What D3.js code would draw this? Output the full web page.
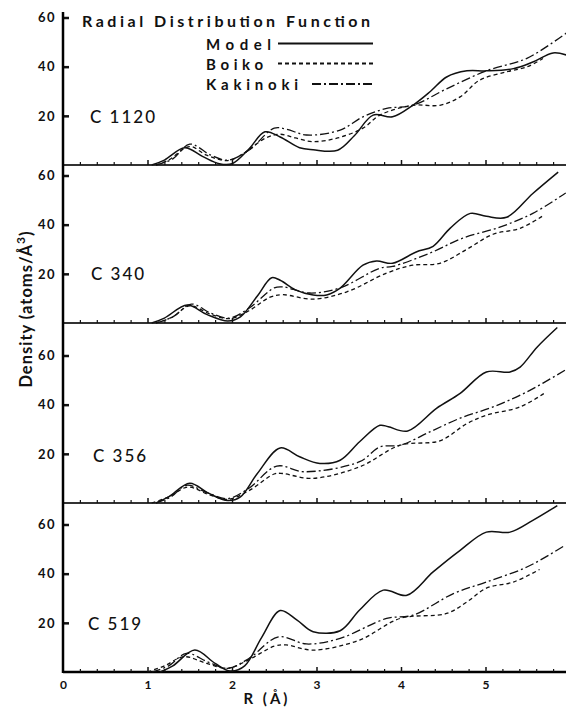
<!DOCTYPE html>
<html>
<head>
<meta charset="utf-8">
<script src="https://cdn.jsdelivr.net/npm/d3@7"></script>
<style>
  body { margin: 0; background: #fff; }
  svg { display: block; }
  text { font-family: Lato, "Open Sans", sans-serif; fill: #111; }
</style>
</head>
<body>
<div id="chart"></div>
<script>
// Radial distribution function, four carbon samples
const panelNames = ["C 1120", "C 340", "C 356", "C 519"];
const seriesNames = ["Model", "Boiko", "Kakinoki"];
const xTicks = [0, 1, 2, 3, 4, 5, 6];
const yTicks = [20, 40, 60];

// [R (Å), density] pairs
const c1120Model = [[1.05,0],[1.2,2],[1.44,7],[1.65,3.5],[1.85,0.5],[2.0,0.5],[2.2,6.5],[2.39,13.5],[2.57,11.4],[2.8,7],[2.96,6.2],[3.25,6],[3.45,12],[3.67,20.3],[3.9,19.6],[4.14,24.3],[4.35,30],[4.54,35.8],[4.78,38.3],[5.01,38.3],[5.33,39.2],[5.56,41.9],[5.8,45.6],[5.97,44.6]];
const c1120Boiko = [[1.1,0],[1.25,2],[1.5,7.5],[1.7,4],[1.95,1.8],[2.15,5],[2.4,11],[2.57,12.5],[2.75,11],[2.96,9.5],[3.25,11],[3.55,15],[3.75,20.3],[4.14,24.3],[4.46,24.3],[4.7,27.7],[4.93,34.5],[5.25,37.9],[5.49,39.9],[5.68,43.3]];
const c1120Kakinoki = [[1.1,0],[1.3,2.5],[1.5,8.5],[1.75,4],[1.95,2],[2.2,6],[2.5,15],[2.65,14.5],[2.88,12.2],[3.28,14.2],[3.55,19.6],[3.83,23],[4.14,24.3],[4.54,31],[5.01,38.3],[5.49,43.4],[5.97,54]];

const c340Model = [[1.05,0],[1.2,2],[1.47,7.3],[1.7,3.5],[1.95,0.8],[2.1,2.5],[2.3,11],[2.47,18.4],[2.57,17.4],[2.75,13.5],[2.96,11.4],[3.12,11.4],[3.28,14.2],[3.55,23.5],[3.71,25.2],[3.9,24.3],[4.18,28.9],[4.38,31.2],[4.58,38.5],[4.82,44.6],[5.01,43.4],[5.25,43],[5.56,52.7],[5.86,61.4]];
const c340Boiko = [[1.1,0],[1.3,2.5],[1.5,7],[1.75,3.5],[1.97,1.8],[2.2,5],[2.45,10.5],[2.6,11.5],[2.96,9.7],[3.36,12.7],[3.83,20.3],[4.14,23.5],[4.46,24.3],[4.78,30],[5.09,36.1],[5.41,38.5],[5.67,43.4]];
const c340Kakinoki = [[1.1,0],[1.3,2.5],[1.52,7.7],[1.75,4],[1.97,2],[2.2,6],[2.5,14.3],[2.6,14.7],[2.92,12.2],[3.28,14.3],[3.75,22.3],[3.9,23],[4.34,28.4],[4.73,34.5],[5.17,39],[5.56,44.6],[5.95,52.9]];

const c356Model = [[1.1,0],[1.25,2.5],[1.5,8],[1.72,4],[1.95,1],[2.1,2.5],[2.3,12],[2.57,22.4],[2.8,18.8],[3.04,16.1],[3.28,17.4],[3.51,24.9],[3.75,31.6],[3.85,31],[4.08,29.3],[4.42,38.5],[4.7,44.6],[5.01,53.3],[5.29,53.3],[5.41,55.3],[5.61,63.4],[5.85,71.4]];
const c356Boiko = [[1.05,0],[1.25,2.5],[1.48,6.5],[1.72,3.5],[1.95,1.5],[2.2,5],[2.5,11.8],[2.6,12],[2.94,10],[3.51,14.7],[3.99,23.5],[4.46,25.3],[4.78,32.3],[5.01,35.7],[5.41,39.1],[5.7,44.7]];
const c356Kakinoki = [[1.1,0],[1.28,2.5],[1.46,7.2],[1.72,4],[1.95,1.8],[2.2,6],[2.53,15],[2.86,12.7],[3.51,16.8],[3.75,22.8],[3.99,23.5],[4.34,28.9],[4.7,34.5],[5.09,39.1],[5.49,45.2],[5.94,54]];

const c519Model = [[1.15,0],[1.3,2.5],[1.56,8.9],[1.8,3.5],[1.98,0.4],[2.15,2.5],[2.35,14],[2.57,25],[2.77,21.1],[2.96,16.4],[3.28,16.8],[3.51,25.2],[3.79,33.3],[4.07,31.2],[4.38,40.7],[4.7,49.5],[5.01,56.9],[5.29,56.9],[5.56,61.7],[5.85,67.7]];
const c519Boiko = [[1.0,0],[1.2,2.5],[1.43,6.2],[1.7,3.5],[1.95,1.5],[2.2,5],[2.5,10.5],[2.64,11],[2.96,8.9],[3.51,13],[3.99,21.8],[4.54,23.8],[4.78,28.5],[5.01,34.1],[5.33,36.6],[5.64,41.7]];
const c519Kakinoki = [[1.05,0],[1.25,2.5],[1.46,7.6],[1.72,4],[1.95,1.5],[2.2,5.5],[2.55,14.3],[2.88,11.4],[3.28,13.7],[3.83,21.8],[4.14,23.1],[4.62,31.9],[5.01,36.6],[5.49,42.7],[5.94,51.5]];

const panelData = [
  [c1120Model, c1120Boiko, c1120Kakinoki],
  [c340Model, c340Boiko, c340Kakinoki],
  [c356Model, c356Boiko, c356Kakinoki],
  [c519Model, c519Boiko, c519Kakinoki]
];

// layout
const W = 566, H = 708;
const axisX = 63;
const top0 = 12;
const baselines = [165, 323, 503, 672];
const labelY = [123, 280, 462, 630];
const labelX = [90, 91, 93, 88];
const pxPer60 = 147.5;
const dashes = [null, "4,3", "9,3,2,3"];

const svg = d3.select("#chart").append("svg")
  .attr("width", W).attr("height", H);

const x = d3.scaleLinear().domain([0, 6]).range([axisX, 570]);
const minor = d3.range(0, 6.01, 0.2).filter(v => Math.abs(v - Math.round(v)) > 1e-6);

svg.append("clipPath").attr("id", "clip")
  .append("rect").attr("x", axisX).attr("y", 0).attr("width", W - axisX).attr("height", H);

panelData.forEach((series, i) => {
  let base = baselines[i];
  let y = d3.scaleLinear().domain([0, 60]).range([base, base - pxPer60]);
  let g = svg.append("g");

  // baseline with ticks pointing up
  g.append("line")
    .attr("x1", axisX).attr("x2", W)
    .attr("y1", base).attr("y2", base)
    .attr("stroke", i === 3 ? "#000" : "#333")
    .attr("stroke-width", i === 3 ? 2.5 : 2);

  g.append("g")
    .attr("transform", `translate(0,${base})`)
    .call(d3.axisTop(x).tickValues(xTicks.slice(1)).tickSize(5).tickFormat(""))
    .call(a => a.select(".domain").remove())
    .selectAll("line").attr("stroke", "#111").attr("stroke-width", 1.5);

  g.append("g")
    .attr("transform", `translate(0,${base})`)
    .call(d3.axisTop(x).tickValues(minor).tickSize(3).tickFormat(""))
    .call(a => a.select(".domain").remove())
    .selectAll("line").attr("stroke", "#111").attr("stroke-width", 1.2);

  // y ticks and labels
  let ya = g.append("g")
    .attr("transform", `translate(${axisX},0)`)
    .call(d3.axisLeft(y).tickValues(yTicks).tickSize(-6).tickPadding(7).tickFormat(d3.format("d")));
  ya.select(".domain").remove();
  ya.selectAll("line").attr("stroke", "#111").attr("stroke-width", 2.5);
  ya.selectAll("text")
    .style("font-size", "13px").style("font-weight", "bold")
    .style("letter-spacing", "1.5px").attr("fill", "#111");

  // curves
  let line = d3.line()
    .x(d => x(d[0]))
    .y(d => y(d[1]))
    .curve(d3.curveCatmullRom.alpha(0.5));

  series.forEach((pts, k) => {
    g.append("path")
      .datum(pts)
      .attr("d", line)
      .attr("fill", "none")
      .attr("stroke", "#111")
      .attr("stroke-width", k === 0 ? 1.5 : 1.3)
      .attr("stroke-dasharray", dashes[k])
      .attr("clip-path", "url(#clip)");
  });

  g.append("text")
    .attr("x", labelX[i]).attr("y", labelY[i])
    .style("font-size", "17px").style("font-weight", 500)
    .style("letter-spacing", "2px")
    .text(panelNames[i]);
});

// left axis line
svg.append("line")
  .attr("x1", axisX).attr("x2", axisX)
  .attr("y1", top0).attr("y2", baselines[3] + 1)
  .attr("stroke", "#000").attr("stroke-width", 2.5);

// x tick labels
svg.append("g")
  .attr("transform", `translate(0,${baselines[3]})`)
  .call(d3.axisBottom(x).tickValues(xTicks).tickSize(0).tickPadding(8).tickFormat(d3.format("d")))
  .call(a => a.select(".domain").remove())
  .selectAll("text")
  .style("font-size", "12px").style("font-weight", "bold").attr("fill", "#111");

// x axis title
svg.append("text")
  .attr("x", 267).attr("y", 704)
  .attr("text-anchor", "middle")
  .style("font-size", "15px").style("font-weight", "bold")
  .style("letter-spacing", "3px")
  .text("R (Å)");

// y axis title
svg.append("text")
  .attr("transform", "translate(32,309) rotate(-90)")
  .attr("text-anchor", "middle")
  .style("font-size", "16.5px").style("font-weight", "bold")
  .style("letter-spacing", "1px")
  .html('Density (atoms/Å<tspan dy="-7" style="font-size:12px">3</tspan><tspan dy="7">)</tspan>');

// title
svg.append("text")
  .attr("x", 82).attr("y", 27)
  .attr("textLength", 288).attr("lengthAdjust", "spacing")
  .style("font-size", "16px").style("font-weight", "bold")
  .text("Radial Distribution Function");

// legend
const legendY = [50, 70, 90];
const legendLineY = [43.5, 63.5, 84];
const legendLineX0 = [278, 278, 312];
const legendTextLen = [65, 57, 92];
seriesNames.forEach((name, k) => {
  svg.append("text")
    .attr("x", 206).attr("y", legendY[k])
    .attr("textLength", legendTextLen[k]).attr("lengthAdjust", "spacing")
    .style("font-size", "15px").style("font-weight", "bold")
    .text(name);
  svg.append("line")
    .attr("x1", legendLineX0[k]).attr("x2", 373)
    .attr("y1", legendLineY[k]).attr("y2", legendLineY[k])
    .attr("stroke", "#111").attr("stroke-width", k === 0 ? 2 : 1.8)
    .attr("stroke-dasharray", dashes[k]);
});
</script>
</body>
</html>
